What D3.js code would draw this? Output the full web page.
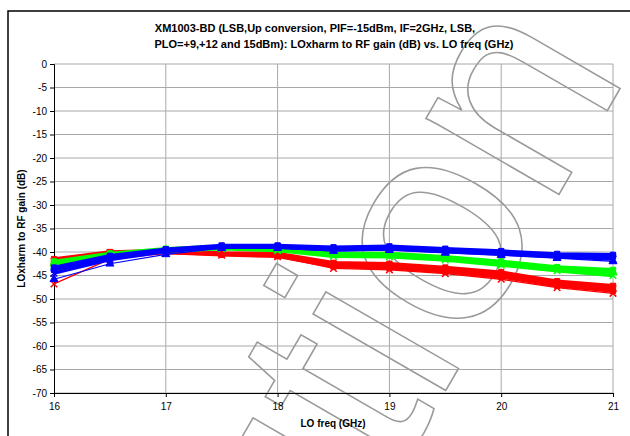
<!DOCTYPE html>
<html><head><meta charset="utf-8">
<script src="https://cdn.jsdelivr.net/npm/d3@7"></script>
<style>body{margin:0;background:#fff}svg{display:block}text{font-family:Arial,"Liberation Sans",sans-serif}</style>
</head><body>
<svg id="c" width="630" height="436"></svg>
<script>
const titleLines = ["XM1003-BD (LSB,Up conversion, PIF=-15dBm, IF=2GHz, LSB,", "PLO=+9,+12 and 15dBm): LOxharm to RF gain (dB) vs. LO freq (GHz)"];
const xLabel = "LO freq (GHz)";
const yLabel = "LOxharm to RF gain (dB)";
const loFreq = [16,16.5,17,17.5,18,18.5,19,19.5,20,20.5,21];
const xTicks = [16,17,18,19,20,21];
const yTicks = [0,-5,-10,-15,-20,-25,-30,-35,-40,-45,-50,-55,-60,-65,-70];

const red1 = [-41.5,-40.0,-39.7,-40.2,-40.3,-42.3,-42.5,-43.3,-44.3,-46.2,-47.2];
const red2 = [-42.0,-40.2,-39.9,-40.4,-40.6,-42.7,-43.0,-43.8,-44.8,-46.7,-47.8];
const red3 = [-42.5,-40.4,-40.1,-40.6,-40.9,-43.1,-43.4,-44.2,-45.3,-47.2,-48.3];
const red4 = [-46.8,-41.5,-40.3,-40.7,-41.0,-43.5,-43.8,-44.6,-45.8,-47.6,-48.8];
const green1 = [-42.0,-40.3,-39.3,-38.8,-39.2,-40.3,-40.3,-41.0,-42.0,-43.2,-43.8];
const green2 = [-42.5,-40.6,-39.6,-39.1,-39.5,-40.6,-40.7,-41.4,-42.4,-43.6,-44.4];
const green3 = [-43.0,-40.9,-39.8,-39.3,-39.7,-40.9,-41.0,-41.7,-42.8,-44.0,-45.0];
const blue1 = [-43.3,-40.8,-39.4,-38.6,-38.6,-39.0,-38.8,-39.3,-39.8,-40.4,-40.6];
const blue2 = [-43.8,-41.2,-39.6,-38.8,-38.8,-39.3,-39.1,-39.6,-40.1,-40.7,-41.0];
const blue3 = [-44.5,-41.6,-39.9,-39.0,-39.0,-39.5,-39.3,-39.9,-40.4,-41.0,-41.5];
const blue4 = [-45.8,-42.5,-40.5,-39.2,-39.2,-39.8,-39.6,-40.2,-40.7,-41.3,-42.0];

const series = [
  {v:red1,c:"#ff0000",w:3.5,m:"square"},
  {v:red2,c:"#ff0000",w:3.5,m:"cross"},
  {v:red3,c:"#ff0000",w:3.5,m:"square"},
  {v:red4,c:"#ff0000",w:1.3,m:"cross"},
  {v:green1,c:"#00ff00",w:3.5,m:"square"},
  {v:green2,c:"#00ff00",w:3.5,m:"triangle"},
  {v:green3,c:"#00ff00",w:3.5,m:"cross"},
  {v:blue1,c:"#0000ff",w:3.5,m:"square"},
  {v:blue2,c:"#0000ff",w:3.5,m:"square"},
  {v:blue3,c:"#0000ff",w:3.5,m:"cross"},
  {v:blue4,c:"#0000ff",w:1.2,m:"triangle"}
];

const svg = d3.select("#c");
svg.append("rect").attr("x",8).attr("y",11).attr("width",640).attr("height",440)
  .attr("fill","none").attr("stroke","#000").attr("stroke-width",1.5);

const L=54,R=613,T=64,B=393;
const x = d3.scaleLinear().domain([16,21]).range([L,R]);
const y = d3.scaleLinear().domain([-70,0]).range([B,T]);

svg.append("g").selectAll("line").data(yTicks).join("line")
  .attr("x1",L).attr("x2",R).attr("y1",d=>y(d)).attr("y2",d=>y(d))
  .attr("stroke","#a8a8a8").attr("stroke-width",1);
svg.append("g").selectAll("line").data(xTicks.slice(1)).join("line")
  .attr("y1",T).attr("y2",B).attr("x1",d=>x(d)).attr("x2",d=>x(d))
  .attr("stroke","#a8a8a8").attr("stroke-width",1);

// watermark
svg.append("text").attr("transform","translate(162,882) rotate(-60)")
  .attr("text-anchor","start").attr("font-size",290)
  .attr("fill","none").attr("stroke","#9a9a9a").attr("stroke-width",1.6)
  .style("font-family","'Liberation Sans',Arial,sans-serif")
  .text("caution");

const xAxis = svg.append("g").attr("transform",`translate(0,${B})`)
  .call(d3.axisBottom(x).tickValues(xTicks).tickSize(4).tickFormat(d3.format("d")));
const yAxis = svg.append("g").attr("transform",`translate(${L},0)`)
  .call(d3.axisLeft(y).tickValues(yTicks).tickSize(4).tickFormat(d=>String(d)));
[xAxis,yAxis].forEach(a=>{
  a.select(".domain").attr("stroke","#000").attr("stroke-width",1);
  a.selectAll(".tick line").attr("stroke","#000");
  a.selectAll(".tick text").attr("font-size",10).attr("fill","#000")
   .style("font-family","Arial,'Liberation Sans',sans-serif");
});
xAxis.selectAll(".tick text").attr("dy","0.9em").attr("y",8);
yAxis.selectAll(".tick text").attr("x",-7);

const line = d3.line().x((d,i)=>x(loFreq[i])).y(d=>y(d));
const sym = {square:d3.symbolSquare,cross:d3.symbolX,triangle:d3.symbolTriangle};
series.forEach(s=>{
  svg.append("path").datum(s.v).attr("d",line).attr("fill","none")
    .attr("stroke",s.c).attr("stroke-width",s.w).attr("stroke-linejoin","round");
  svg.append("g").selectAll("path").data(s.v).join("path")
    .attr("transform",(d,i)=>`translate(${x(loFreq[i])},${y(d)})`)
    .attr("d",d3.symbol().type(sym[s.m]).size(s.m==="cross"?30:28))
    .attr("fill",s.m==="cross"?"none":s.c).attr("stroke",s.c).attr("stroke-width",s.m==="cross"?1.5:1);
});

const tt = svg.append("text").attr("font-size",11).attr("font-weight","bold").attr("text-anchor","middle");
tt.append("tspan").attr("x",315).attr("y",32).text(titleLines[0]);
tt.append("tspan").attr("x",334).attr("y",48).text(titleLines[1]);
svg.append("text").attr("x",333).attr("y",427).attr("font-size",10).attr("font-weight","bold")
  .attr("text-anchor","middle").text(xLabel);
svg.append("text").attr("transform",`translate(25,${(T+B)/2}) rotate(-90)`).attr("font-size",10)
  .attr("font-weight","bold").attr("text-anchor","middle").text(yLabel);
</script>
</body></html>
